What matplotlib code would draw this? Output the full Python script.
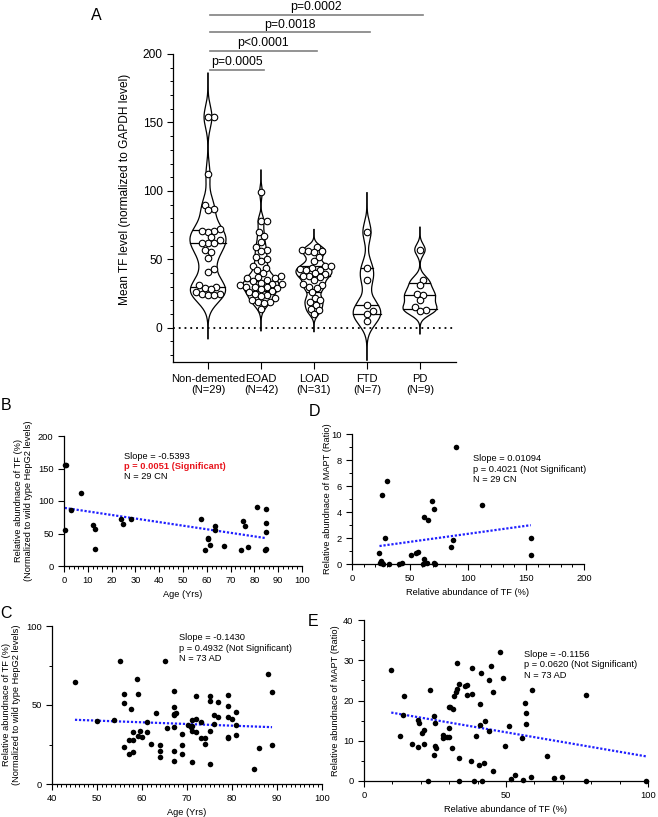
import numpy as np
import matplotlib
matplotlib.use('Agg')
import matplotlib.pyplot as plt
from matplotlib.ticker import MultipleLocator

plt.rcParams['font.family'] = ['Liberation Sans', 'DejaVu Sans']

# ---- panel A data (TF level per group)
groups = ['Non-demented\n(N=29)', 'EOAD\n(N=42)', 'LOAD\n(N=31)', 'FTD\n(N=7)', 'PD\n(N=9)']
nd = [154, 154, 112, 90, 87, 86, 72, 71, 70, 71, 66, 62, 62, 62, 64, 57, 55, 51, 43, 41,
      31, 30, 29, 28, 26, 25, 25, 24, 24]
eoad = [99, 78, 78, 70, 67, 63, 59, 57, 56, 52, 50, 49, 45, 44, 42, 40, 38, 37, 36, 36, 35,
        34, 33, 32, 32, 31, 30, 30, 30, 29, 28, 27, 26, 25, 24, 23, 22, 20, 19, 19, 18, 14]
load = [59, 57, 56, 56, 55, 52, 49, 45, 45, 44, 43, 42, 42, 40, 39, 38, 38, 37, 35, 32, 31,
        30, 29, 26, 22, 20, 19, 17, 14, 13, 10]
ftd = [70, 44, 35, 17, 12, 10, 5]
pd_ = [57, 35, 31, 25, 24, 20, 15, 13, 12]
group_vals = [nd, eoad, load, ftd, pd_]
sig_labels = ['p=0.0005', 'p<0.0001', 'p=0.0018', 'p=0.0002']
sig_heights = [188.5, 202.4, 215.8, 228.7]

# ---- panel B: age vs TF (CN)
b_age = [0.3, 0.9, 7.0, 3.1, 0.6, 12.1, 13.0, 13.0, 24.1, 24.8, 28.2, 57.4, 59.4, 60.4, 60.6,
         61.3, 63.4, 63.4, 67.4, 74.4, 75.2, 76.2, 77.3, 81.1, 85.0, 85.0, 85.0, 84.3, 85.0]
b_tf = [155, 155, 113, 86, 55, 63, 57, 26, 72, 65, 71.6, 72, 24.5, 43, 41.5,
        31.6, 62, 55, 30.6, 24.5, 69.6, 61.4, 29, 90.5, 88, 66, 51.7, 24.5, 26.5]

# ---- panel D: TF vs MAPT (CN)
d_tf = [89.6, 30.3, 25.8, 69.0, 70.5, 62.4, 65.9, 112.3, 154.1, 154.1, 28.6, 87.3, 85.6, 23.7,
        50.7, 55.0, 56.7, 62.1, 24.0, 25.8, 24.7, 26.8, 31.6, 40.8, 43.1, 61.0, 64.4, 71.0, 71.6]
d_mapt = [8.97, 6.36, 5.33, 4.85, 4.23, 3.64, 3.41, 4.54, 2.02, 0.72, 1.97, 1.82, 1.28, 0.87,
          0.67, 0.85, 0.9, 0.36, 0.1, 0.05, 0.2, 0.0, 0.0, 0.0, 0.07, 0.0, 0.07, 0.07, 0.02]

# ---- panel C: age vs TF (AD)
c_age = [45.1, 50.1, 53.8, 55.1, 56.1, 56.1, 55.9, 57.0, 57.1, 57.6, 57.9, 58.1, 58.1, 58.8,
         59.1, 59.1, 59.6, 60.1, 61.0, 61.0, 61.9, 63.0, 64.0, 64.0, 64.0, 65.0, 65.5, 67.0,
         67.0, 67.0, 67.0, 67.0, 67.0, 67.6, 68.9, 68.9, 68.9, 70.3, 70.9, 71.0, 71.0, 71.0,
         72.0, 72.0, 72.0, 73.0, 73.0, 73.9, 73.9, 75.0, 75.0, 75.0, 75.0, 75.9, 75.9, 76.9,
         76.9, 79.0, 79.0, 79.0, 79.0, 79.9, 80.9, 80.9, 80.9, 84.9, 85.9, 87.9, 88.9, 88.9,
         71.0, 67.0, 79.0]
c_tf = [64.3, 40.1, 40.3, 77.9, 56.9, 51.1, 23.3, 19.1, 27.9, 47.7, 32.6, 27.9, 20.4, 66.6,
        56.9, 30.5, 33.4, 30.0, 39.3, 32.6, 25.4, 44.7, 24.8, 21.2, 17.0, 77.7, 35.5, 58.8,
        48.9, 43.9, 36.3, 21.2, 14.3, 45.2, 31.5, 24.6, 19.1, 37.6, 35.9, 40.5, 33.8, 14.1,
        55.7, 41.0, 32.6, 39.3, 29.4, 25.4, 29.4, 55.7, 52.7, 33.4, 12.8, 43.9, 38.0, 51.7,
        42.2, 56.3, 49.4, 42.6, 29.8, 41.4, 45.4, 37.6, 30.9, 9.7, 22.7, 69.5, 58.4, 24.4,
        36.5, 44.5, 29.0]

# ---- panel E: TF vs MAPT (AD)
e_tf = [9.6, 14.2, 13.9, 12.8, 16.9, 18.9, 19.2, 19.1, 20.4, 21.2, 21.2, 23.2, 22.6, 24.5,
        24.6, 25.1, 25.1, 25.5, 27.9, 27.9, 29.4, 29.8, 30.4, 30.0, 31.0, 31.3, 31.8, 32.4,
        32.6, 32.6, 33.5, 33.5, 33.5, 35.6, 36.4, 36.1, 37.6, 37.9, 37.9, 38.9, 39.5, 40.4,
        40.7, 40.7, 41.2, 41.5, 42.4, 42.7, 43.9, 44.1, 44.8, 45.3, 45.5, 47.8, 48.9, 49.6,
        51.2, 51.9, 53.1, 55.6, 56.0, 56.6, 57.2, 57.2, 58.7, 59.2, 64.6, 66.9, 69.8, 78.1,
        78.2, 99.3, 30.0]
e_mapt = [27.5, 21.0, 16.3, 11.2, 9.2, 15.1, 14.4, 8.4, 11.9, 12.6, 9.1, 22.6, 0.0, 6.5,
          16.1, 14.3, 8.8, 8.1, 11.5, 10.7, 10.9, 18.4, 18.5, 13.1, 8.1, 18.0, 21.0, 22.1,
          22.8, 29.2, 24.2, 5.8, 0.0, 23.5, 23.9, 21.3, 4.9, 28.1, 21.6, 0.0, 11.1, 3.9,
          19.1, 13.9, 26.8, 0.0, 4.5, 14.9, 25.1, 12.3, 28.6, 2.6, 22.0, 32.1, 25.7, 8.8,
          13.7, 0.5, 1.5, 10.6, 0.3, 19.5, 17.0, 14.1, 1.1, 22.6, 6.3, 0.7, 0.9, 21.3,
          0.0, 0.0, 11.0]

W, H = 658, 817
fig = plt.figure(figsize=(W / 100, H / 100), dpi=100)


def px_axes(l, t, r, b):
    ax = fig.add_axes([l / W, 1 - b / H, (r - l) / W, (b - t) / H])
    for s in ['top', 'right']:
        ax.spines[s].set_visible(False)
    for s in ['left', 'bottom']:
        ax.spines[s].set_linewidth(0.9)
    ax.tick_params(which='major', direction='out', length=4, width=0.8)
    ax.tick_params(which='minor', direction='out', length=2.5, width=0.7)
    return ax


def swarm(vals, d_px, sy, sx):
    # simple beeswarm in pixel space
    vals = np.asarray(vals, float)
    placed = []
    offs = np.zeros(len(vals))
    for i in np.argsort(vals):
        y = vals[i] * sy
        cands = [0.0]
        for px, py in placed:
            dy = abs(py - y)
            if dy < d_px:
                dx = np.sqrt(d_px ** 2 - dy ** 2)
                cands += [px + dx, px - dx]
        cands.sort(key=abs)
        for c in cands:
            if all((c - px) ** 2 + (y - py) ** 2 >= d_px ** 2 - 1e-6 for px, py in placed):
                break
        placed.append((c, y))
        offs[i] = c / sx
    return offs


# ================= panel A
axA = px_axes(173, 54, 456, 362)
axA.set_xlim(-0.66, 4.68)
axA.set_ylim(-25, 200)
sx_px = 283 / 5.34
sy_px = 308 / 225
half_w = [0.34, 0.34, 0.34, 0.26, 0.32]
for i, vals in enumerate(group_vals):
    v = np.asarray(vals, float)
    bw = 0.45 * v.std(ddof=1) * len(v) ** (-0.2)
    yy = np.linspace(v.min() - 4 * bw, v.max() + 4 * bw, 400)
    dens = np.exp(-0.5 * ((yy[:, None] - v[None, :]) / bw) ** 2).sum(axis=1)
    w = dens / dens.max() * half_w[i]
    axA.plot(i - w, yy, color='k', lw=0.9, zorder=2)
    axA.plot(i + w, yy, color='k', lw=0.9, zorder=2)
    for q in np.percentile(v, [25, 50, 75], method='weibull'):
        wq = np.interp(q, yy, w)
        axA.plot([i - wq, i + wq], [q, q], color='k', lw=0.9, zorder=2)
    offs = swarm(v, 6.2, sy_px, sx_px)
    axA.scatter(i + offs, v, s=22, facecolor='white', edgecolor='k', linewidth=0.8,
                zorder=3, clip_on=False)
axA.axhline(0, color='k', ls=(0, (1, 2.2)), lw=1.3, zorder=1)
axA.set_xticks(range(len(groups)))
axA.set_xticklabels(groups, fontsize=8.0, linespacing=1.15)
axA.tick_params(axis='x', length=5)
axA.set_yticks([0, 50, 100, 150, 200])
axA.yaxis.set_minor_locator(MultipleLocator(10))
axA.tick_params(axis='y', labelsize=8.6)
axA.set_ylabel('Mean TF level (normalized to GAPDH level)', fontsize=8.6)
axA.yaxis.set_label_coords(-0.15, 0.56)
for j, (lab, h) in enumerate(zip(sig_labels, sig_heights)):
    x1 = j + 1.06
    axA.plot([0.03, x1], [h, h], color='#808080', lw=1.2, clip_on=False)
    axA.text((0.03 + x1) / 2, h + 1.2, lab, ha='center', va='bottom', fontsize=8.8,
             clip_on=False)


def scatter_panel(box, x, y, xlim, ylim, xmaj, xmin, ymaj, ymin, xlabel, ylabel, ylab_x,
                  lines, tpos):
    ax = px_axes(*box)
    ax.set_xlim(*xlim)
    ax.set_ylim(*ylim)
    ax.scatter(x, y, s=16, color='k', zorder=3, clip_on=False, linewidth=0)
    k, b0 = np.polyfit(x, y, 1)
    xs = np.array([min(x), max(x)])
    ax.plot(xs, k * xs + b0, color='#1f1fff', ls=(0, (1, 0.8)), lw=1.6, zorder=2)
    ax.xaxis.set_major_locator(MultipleLocator(xmaj))
    ax.xaxis.set_minor_locator(MultipleLocator(xmin))
    ax.yaxis.set_major_locator(MultipleLocator(ymaj))
    if ymin:
        ax.yaxis.set_minor_locator(MultipleLocator(ymin))
    ax.tick_params(labelsize=6.7)
    ax.set_xlabel(xlabel, fontsize=6.7, labelpad=3)
    ax.set_ylabel(ylabel, fontsize=6.7, linespacing=1.2)
    ax.yaxis.set_label_coords(ylab_x, 0.5)
    tx, ty, dy = tpos
    for n, (txt, col, wt) in enumerate(lines):
        ax.text(tx, ty - n * dy, txt, color=col, fontweight=wt, fontsize=6.7,
                va='center', ha='left')
    return ax


tf_ylabel = 'Relative abundnace of TF (%)\n(Normalized to wild type HepG2 levels)'
mapt_ylabel = 'Relative abundnace of MAPT (Ratio)'

# ================= panel B
scatter_panel((64, 436, 302, 566), b_age, b_tf, (0, 100), (0, 200), 10, 2, 50, None,
              'Age (Yrs)', tf_ylabel, -0.13,
              [('Slope = -0.5393', 'k', 'normal'),
               ('p = 0.0051 (Significant)', '#e8141c', 'bold'),
               ('N = 29 CN', 'k', 'normal')],
              (25.1, 169, 16))

# ================= panel D
scatter_panel((352, 434, 584, 564), d_tf, d_mapt, (0, 200), (0, 10), 50, 10, 2, 1,
              'Relative abundance of TF (%)', mapt_ylabel, -0.085,
              [('Slope = 0.01094', 'k', 'normal'),
               ('p = 0.4021 (Not Significant)', 'k', 'normal'),
               ('N = 29 CN', 'k', 'normal')],
              (104.5, 8.08, 0.79))

# ================= panel C
scatter_panel((52, 626, 322, 784), c_age, c_tf, (40, 100), (0, 100), 10, 1, 50, 25,
              'Age (Yrs)', tf_ylabel, -0.115,
              [('Slope = -0.1430', 'k', 'normal'),
               ('p = 0.4932 (Not Significant)', 'k', 'normal'),
               ('N = 73 AD', 'k', 'normal')],
              (68.2, 92.6, 6.6))

# ================= panel E
scatter_panel((364, 620, 648, 781), e_tf, e_mapt, (0, 100), (0, 40), 50, 10, 10, 5,
              'Relative abundance of TF (%)', mapt_ylabel, -0.085,
              [('Slope = -0.1156', 'k', 'normal'),
               ('p = 0.0620 (Not Significant)', 'k', 'normal'),
               ('N = 73 AD', 'k', 'normal')],
              (56.4, 31.5, 2.6))

# panel letters
for lab, x, y in [('A', 96, 15), ('B', 6, 405), ('C', 6, 614), ('D', 314, 412), ('E', 313, 621)]:
    fig.text(x / W, 1 - y / H, lab, fontsize=11.5, ha='center', va='center')

fig.savefig('out.png', dpi=100)
